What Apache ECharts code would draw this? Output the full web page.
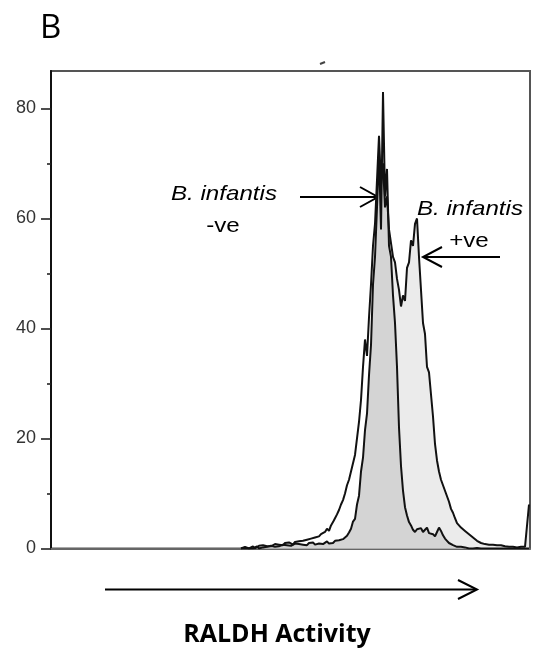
<!DOCTYPE html>
<html>
<head>
<meta charset="utf-8">
<script src="https://cdn.jsdelivr.net/npm/echarts@6/dist/echarts.min.js"></script>
<style>
  html, body { margin: 0; padding: 0; background: #fff; }
  #chart { width: 537px; height: 652px; }
</style>
</head>
<body>
<div id="chart"></div>
<script>
// Channel index of the first value in each array (channels run 0..239)
const channelStart = 95;
// Channel where the +ve light shading takes over from the -ve outline
const splitChannel = 166;

// B. infantis -ve histogram (counts per channel)
const negValues = [
  0,0,0.3,0,
  0,0.3,0,0.2,0.4,0,0.3,0.2,0.5,0.3,0.2,
  0.5,0.4,0.3,0.6,0.4,0.5,0.7,0.4,0.6,0.8,
  0.5,0.7,0.9,0.6,0.8,1.0,0.7,0.9,0.6,1.0,
  0.8,1.1,0.7,1.0,0.9,1.2,0.8,1.1,1.3,0.9,
  1.2,1.0,1.4,1.1,1.5,1.3,1.7,2.0,2.3,2.9,
  3.6,4.9,5.4,8.0,9.6,14,16.5,21.5,24.5,31.5,
  37,48,53,62,72,58,83,64,69,55,
  53,46,41,33,22,15,10.5,7.5,6,4.8,
  4.2,3.4,3.0,3.5,3.2,3.7,3.0,3.4,3.8,2.8,
  3.1,2.6,2.2,3.0,3.8,3.2,2.4,1.8,1.4,1.0,
  0.8,0.6,0.4,0.3,0.2,0.3,0.1,0.2,0.1,0,
  0.1,0,0,0.1,0,0,0,0,0,0,
  0,0,0,0,0,0,0,0,0,0,
  0,0,0,0,0,0,0,0,0,0
];

// B. infantis +ve histogram (counts per channel)
const posValues = [
  0,0,0,0,
  0,0.2,0.4,0,0.3,0.5,0.2,0.6,0.3,0.4,0.7,
  0.4,0.6,0.8,0.5,0.7,0.9,0.6,1.0,0.8,1.1,
  0.9,0.7,1.2,1.0,1.3,1.0,1.4,1.2,1.6,1.3,
  1.8,1.5,2.0,1.7,2.2,2.6,2.3,3.0,3.6,3.2,
  4.2,4.8,5.5,6.2,7.0,8.0,8.8,10,11.5,12.5,
  14,15.5,17,20,23,27,33,38,35,42,
  48,55,59,67,75,66,70,62,64,58,
  58,53,52,49,47,44,46,45,51,52,
  56,55,59,60,53,47,41,39,33,32,
  28,24,19,16,14,12.5,11.5,10.5,9.5,8.5,
  7.2,6.5,5.5,4.6,4.8,3.8,4.0,3.2,3.4,2.6,
  2.4,2.0,1.8,1.4,1.5,1.0,1.1,0.8,0.9,0.7,
  0.6,0.7,0.5,0.6,0.4,0.6,0.5,0.4,0.5,0.3,
  0.4,0.3,0.4,0.2,0.3,0.3,0.2,0.3,0.4,8
];

const yMajorTicks = [0, 20, 40, 60, 80];
const yMinorTicks = [10, 30, 50, 70];
const yMax = 86.8;
const xMax = 239.5;

const panelLabel = 'B';
const xAxisTitle = 'RALDH Activity';
const negLabel = ['B. infantis', '-ve'];
const posLabel = ['B. infantis', '+ve'];

const negData = negValues.map((v, i) => [channelStart + i, v]);
const posData = posValues.map((v, i) => [channelStart + i, v]);
const lightData = posValues.map((v, i) =>
  [channelStart + i, (channelStart + i < splitChannel) ? negValues[i] : v]);

const chart = echarts.init(document.getElementById('chart'), null, { renderer: 'canvas' });

const annoFont = 'italic 21px "Liberation Sans", Arial, sans-serif';
const normFont = '21px "Liberation Sans", Arial, sans-serif';
const arrowStyle = { stroke: '#000', lineWidth: 2, fill: null };

chart.setOption({
  animation: false,
  backgroundColor: '#fff',
  grid: {
    left: 51, right: 7, top: 71, bottom: 103.5,
    show: true, borderColor: '#555', borderWidth: 2,
    containLabel: false
  },
  xAxis: {
    type: 'value', min: 0, max: xMax,
    axisLine: { show: true, lineStyle: { color: '#666', width: 2 } },
    axisTick: { show: false },
    axisLabel: { show: false },
    splitLine: { show: false }
  },
  yAxis: [
    {
      type: 'value', min: 0, max: yMax, interval: 20,
      axisLine: { show: true, lineStyle: { color: '#111', width: 2 } },
      axisTick: { show: true, customValues: yMajorTicks, length: 10, inside: false,
                  lineStyle: { color: '#222', width: 1.6 } },
      axisLabel: { show: true, customValues: yMajorTicks, margin: 15,
                   fontSize: 18, fontFamily: '"Liberation Sans", Arial, sans-serif',
                   color: '#333' },
      splitLine: { show: false }
    },
    {
      type: 'value', min: 0, max: yMax, position: 'left', offset: 0,
      axisLine: { show: false },
      axisTick: { show: true, customValues: yMinorTicks, length: 4,
                  lineStyle: { color: '#222', width: 1.6 } },
      axisLabel: { show: false },
      splitLine: { show: false }
    }
  ],
  series: [
    {
      name: 'shade', type: 'line', data: lightData, yAxisIndex: 0,
      showSymbol: false, silent: true, z: 1,
      lineStyle: { width: 0, opacity: 0 },
      areaStyle: { color: '#ebebeb', opacity: 1 }
    },
    {
      name: 'B. infantis -ve', type: 'line', data: negData, yAxisIndex: 0,
      showSymbol: false, silent: true, z: 2,
      lineStyle: { color: '#111', width: 2 },
      areaStyle: { color: '#d4d4d4', opacity: 1 }
    },
    {
      name: 'B. infantis +ve', type: 'line', data: posData, yAxisIndex: 0,
      showSymbol: false, silent: true, z: 3,
      lineStyle: { color: '#111', width: 2 }
    }
  ],
  graphic: [
    { type: 'text', left: 40, top: 12,
      style: { text: panelLabel, font: '33px "Open Sans", sans-serif', fill: '#000' } },
    { type: 'line', shape: { x1: 320, y1: 64, x2: 325, y2: 62 },
      style: { stroke: '#444', lineWidth: 2 } },
    // -ve annotation
    { type: 'text', x: 224, y: 194.5, scaleX: 1.15, originX: 0,
      style: { text: negLabel[0], font: annoFont, fill: '#000',
               textAlign: 'center', textVerticalAlign: 'middle' } },
    { type: 'text', x: 223, y: 226.5, scaleX: 1.15, originX: 0,
      style: { text: negLabel[1], font: normFont, fill: '#000',
               textAlign: 'center', textVerticalAlign: 'middle' } },
    { type: 'line', shape: { x1: 300, y1: 197, x2: 377, y2: 197 }, style: arrowStyle },
    { type: 'polyline', shape: { points: [[360, 187], [378, 197], [360, 207]] }, style: arrowStyle },
    // +ve annotation
    { type: 'text', x: 470, y: 209, scaleX: 1.15, originX: 0,
      style: { text: posLabel[0], font: annoFont, fill: '#000',
               textAlign: 'center', textVerticalAlign: 'middle' } },
    { type: 'text', x: 469, y: 241.5, scaleX: 1.15, originX: 0,
      style: { text: posLabel[1], font: normFont, fill: '#000',
               textAlign: 'center', textVerticalAlign: 'middle' } },
    { type: 'line', shape: { x1: 424, y1: 257, x2: 500, y2: 257 }, style: arrowStyle },
    { type: 'polyline', shape: { points: [[442, 247], [423, 257], [442, 267]] }, style: arrowStyle },
    // x-axis arrow and title
    { type: 'line', shape: { x1: 105, y1: 589.5, x2: 476, y2: 589.5 }, style: arrowStyle },
    { type: 'polyline', shape: { points: [[458, 580], [477, 589.5], [458, 599]] }, style: arrowStyle },
    { type: 'text', x: 277, y: 634.5,
      style: { text: xAxisTitle, font: 'bold 25px "Open Sans", sans-serif', fill: '#000',
               textAlign: 'center', textVerticalAlign: 'middle' } }
  ]
});
</script>
</body>
</html>
